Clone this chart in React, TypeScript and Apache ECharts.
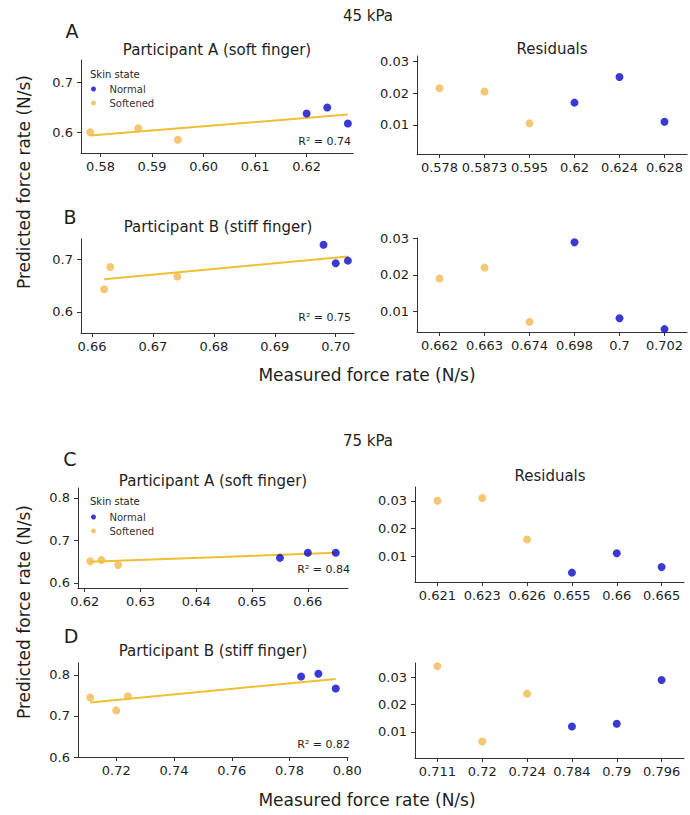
import React, { useEffect, useRef } from "react";
import * as echarts from "echarts";

const FONT = "DejaVu Sans";
const BLUE = "#0808c8";
const SOFT = "#f2c46c";
const FIT = "#f0c034";
const INK = "#1e1e1e";

// ---------- 45 kPa, Participant A ----------
const aNormal = [[0.620, 0.637], [0.624, 0.649], [0.628, 0.617]];
const aSoft = [[0.578, 0.5995], [0.5873, 0.6075], [0.595, 0.5845]];
const aFit = [[0.578, 0.593], [0.628, 0.635]];
const aXTicks = [0.58, 0.59, 0.60, 0.61, 0.62];
const aYTicks = [0.6, 0.7];
const aResCats = ["0.578", "0.5873", "0.595", "0.62", "0.624", "0.628"];
const aResSoft = [["0.578", 0.0215], ["0.5873", 0.0205], ["0.595", 0.0105]];
const aResNormal = [["0.62", 0.017], ["0.624", 0.025], ["0.628", 0.011]];
const aR2 = "0.74";

// ---------- 45 kPa, Participant B ----------
const bNormal = [[0.698, 0.727], [0.700, 0.692], [0.702, 0.697]];
const bSoft = [[0.662, 0.643], [0.663, 0.685], [0.674, 0.667]];
const bFit = [[0.662, 0.662], [0.702, 0.705]];
const bXTicks = [0.66, 0.67, 0.68, 0.69, 0.70];
const bYTicks = [0.6, 0.7];
const bResCats = ["0.662", "0.663", "0.674", "0.698", "0.7", "0.702"];
const bResSoft = [["0.662", 0.019], ["0.663", 0.022], ["0.674", 0.007]];
const bResNormal = [["0.698", 0.029], ["0.7", 0.008], ["0.702", 0.005]];
const bR2 = "0.75";

// ---------- 75 kPa, Participant A ----------
const cNormal = [[0.655, 0.659], [0.660, 0.671], [0.665, 0.671]];
const cSoft = [[0.621, 0.651], [0.623, 0.654], [0.626, 0.642]];
const cFit = [[0.621, 0.650], [0.665, 0.671]];
const cXTicks = [0.62, 0.63, 0.64, 0.65, 0.66];
const cYTicks = [0.6, 0.7, 0.8];
const cResCats = ["0.621", "0.623", "0.626", "0.655", "0.66", "0.665"];
const cResSoft = [["0.621", 0.030], ["0.623", 0.031], ["0.626", 0.016]];
const cResNormal = [["0.655", 0.004], ["0.66", 0.011], ["0.665", 0.006]];
const cR2 = "0.84";

// ---------- 75 kPa, Participant B ----------
const dNormal = [[0.784, 0.796], [0.790, 0.803], [0.796, 0.767]];
const dSoft = [[0.711, 0.745], [0.720, 0.7135], [0.724, 0.748]];
const dFit = [[0.711, 0.733], [0.796, 0.790]];
const dXTicks = [0.72, 0.74, 0.76, 0.78, 0.80];
const dYTicks = [0.6, 0.7, 0.8];
const dResCats = ["0.711", "0.72", "0.724", "0.784", "0.79", "0.796"];
const dResSoft = [["0.711", 0.034], ["0.72", 0.0065], ["0.724", 0.024]];
const dResNormal = [["0.784", 0.012], ["0.79", 0.013], ["0.796", 0.029]];
const dR2 = "0.82";

const resTicks = [0.01, 0.02, 0.03];

const panels = [
  { normal: aNormal, soft: aSoft, fit: aFit, xTicks: aXTicks, yTicks: aYTicks, cats: aResCats, resSoft: aResSoft, resNormal: aResNormal, r2: aR2,
    x: [0.5762, 0.629], y: [0.558, 0.744], res: [0.0009, 0.0316] },
  { normal: bNormal, soft: bSoft, fit: bFit, xTicks: bXTicks, yTicks: bYTicks, cats: bResCats, resSoft: bResSoft, resNormal: bResNormal, r2: bR2,
    x: [0.6582, 0.703], y: [0.560, 0.738], res: [0.0042, 0.0302] },
  { normal: cNormal, soft: cSoft, fit: cFit, xTicks: cXTicks, yTicks: cYTicks, cats: cResCats, resSoft: cResSoft, resNormal: cResNormal, r2: cR2,
    x: [0.6188, 0.6672], y: [0.588, 0.8235], res: [0.0006, 0.035] },
  { normal: dNormal, soft: dSoft, fit: dFit, xTicks: dXTicks, yTicks: dYTicks, cats: dResCats, resSoft: dResSoft, resNormal: dResNormal, r2: dR2,
    x: [0.70675, 0.80025], y: [0.6, 0.829], res: [0.0005, 0.0352] },
];

// layout (pixels)
const leftGrids = [
  { left: 81, top: 60, width: 272, height: 93 },
  { left: 81, top: 239, width: 273, height: 94 },
  { left: 78, top: 488, width: 270, height: 100 },
  { left: 78, top: 663, width: 270, height: 94 },
];
const rightGrids = [
  { left: 417, top: 56, width: 270, height: 98 },
  { left: 417, top: 238, width: 270, height: 94 },
  { left: 415, top: 487, width: 269, height: 95 },
  { left: 415, top: 663, width: 269, height: 95 },
];

const axisLine = { show: true, lineStyle: { color: "#333", width: 1 } };
const tickStyle = { color: "#333", width: 1 };
const labelBase = { fontSize: 13, fontFamily: FONT, color: INK };

function text(x: number, y: number, t: string, size: number, align = "center", extra: any = {}) {
  return {
    type: "text",
    x,
    y,
    ...extra,
    style: { text: t, fontSize: size, fontFamily: FONT, fill: INK, align, verticalAlign: "middle" },
  };
}

export default function App() {
  const ref = useRef<HTMLDivElement>(null);
  useEffect(() => {
    if (!ref.current) return;
    const chart = echarts.init(ref.current, undefined, { renderer: "svg" });
    const grid: any[] = [];
    const xAxis: any[] = [];
    const yAxis: any[] = [];
    const series: any[] = [];

    panels.forEach((p, i) => {
      grid.push({ ...leftGrids[i], outerBoundsMode: "none", containLabel: false });
      xAxis.push({
        type: "value", gridIndex: i, min: p.x[0], max: p.x[1],
        axisLine, splitLine: { show: false },
        axisTick: { show: true, length: 4, lineStyle: tickStyle, customValues: p.xTicks },
        axisLabel: { ...labelBase, margin: 7, customValues: p.xTicks, formatter: (v: number) => v.toFixed(2) },
      });
      yAxis.push({
        type: "value", gridIndex: i, min: p.y[0], max: p.y[1],
        axisLine, splitLine: { show: false },
        axisTick: { show: true, length: 4, lineStyle: tickStyle, customValues: p.yTicks },
        axisLabel: { ...labelBase, margin: 8, customValues: p.yTicks, formatter: (v: number) => v.toFixed(1) },
      });
    });
    panels.forEach((p, i) => {
      grid.push({ ...rightGrids[i], outerBoundsMode: "none", containLabel: false });
      xAxis.push({
        type: "category", gridIndex: 4 + i, data: p.cats, boundaryGap: true,
        axisLine, splitLine: { show: false },
        axisTick: { show: true, length: 4, alignWithLabel: true, lineStyle: tickStyle },
        axisLabel: { ...labelBase, margin: 7, interval: 0 },
      });
      yAxis.push({
        type: "value", gridIndex: 4 + i, min: p.res[0], max: p.res[1],
        axisLine, splitLine: { show: false },
        axisTick: { show: true, length: 4, lineStyle: tickStyle, customValues: resTicks },
        axisLabel: { ...labelBase, margin: 8, customValues: resTicks, formatter: (v: number) => v.toFixed(2) },
      });
    });

    panels.forEach((p, i) => {
      series.push({
        type: "scatter", name: "Softened", xAxisIndex: i, yAxisIndex: i, data: p.soft,
        symbolSize: 8, itemStyle: { color: SOFT, opacity: 0.95 }, z: 2,
      });
      series.push({
        type: "line", name: "fit", xAxisIndex: i, yAxisIndex: i, data: p.fit,
        symbol: "none", lineStyle: { color: FIT, width: 2 }, z: 3,
      });
      series.push({
        type: "scatter", name: "Normal", xAxisIndex: i, yAxisIndex: i, data: p.normal,
        symbolSize: 8, itemStyle: { color: BLUE }, z: 4,
      });
      series.push({
        type: "scatter", name: "Softened", xAxisIndex: 4 + i, yAxisIndex: 4 + i, data: p.resSoft,
        symbolSize: 8, itemStyle: { color: SOFT, opacity: 0.95 },
      });
      series.push({
        type: "scatter", name: "Normal", xAxisIndex: 4 + i, yAxisIndex: 4 + i, data: p.resNormal,
        symbolSize: 8, itemStyle: { color: BLUE },
      });
    });

    const legendBase = {
      data: ["Normal", "Softened"], orient: "vertical", icon: "circle",
      itemWidth: 22, itemHeight: 5, itemGap: 2, padding: 0, selectedMode: false,
      textStyle: { fontSize: 10, fontFamily: FONT, color: "#333", lineHeight: 12 },
    };

    const graphic: any[] = [
      text(368, 16, "45 kPa", 15),
      text(368, 441, "75 kPa", 15),
      text(72, 31, "A", 19),
      text(70, 217, "B", 19),
      text(70, 459, "C", 19),
      text(71, 636, "D", 19),
      text(217, 50, "Participant A (soft finger)", 15),
      text(552, 49, "Residuals", 15),
      text(218, 227, "Participant B (stiff finger)", 15),
      text(213, 481, "Participant A (soft finger)", 15),
      text(550, 476, "Residuals", 15),
      text(213, 651, "Participant B (stiff finger)", 15),
      text(367, 375, "Measured force rate (N/s)", 17),
      text(367, 800, "Measured force rate (N/s)", 17),
      text(24, 182, "Predicted force rate (N/s)", 17, "center", { rotation: Math.PI / 2 }),
      text(24, 612, "Predicted force rate (N/s)", 17, "center", { rotation: Math.PI / 2 }),
      text(90, 74, "Skin state", 10, "left"),
      text(90, 501, "Skin state", 10, "left"),
      text(351, 141, "R² = " + panels[0].r2, 11, "right"),
      text(351, 317, "R² = " + panels[1].r2, 11, "right"),
      text(350, 569, "R² = " + panels[2].r2, 11, "right"),
      text(350, 744, "R² = " + panels[3].r2, 11, "right"),
    ];

    chart.setOption({
      animation: false,
      backgroundColor: "#ffffff",
      textStyle: { fontFamily: FONT },
      grid, xAxis, yAxis, series,
      legend: [
        { ...legendBase, left: 91, top: 83 },
        { ...legendBase, left: 91, top: 511 },
      ],
      graphic,
    });
    return () => chart.dispose();
  }, []);
  return <div ref={ref} style={{ position: "absolute", left: 0, top: 0, width: 690, height: 815 }} />;
}
